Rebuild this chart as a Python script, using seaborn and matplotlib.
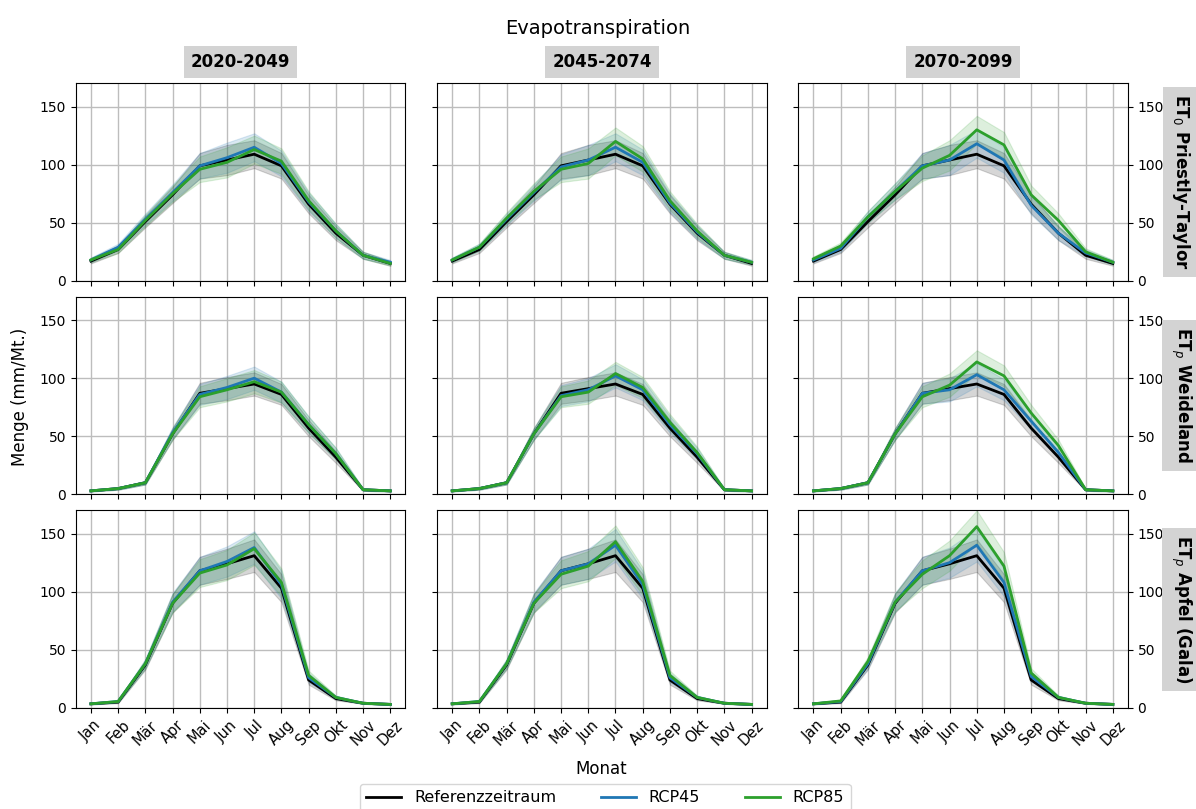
import numpy as np
import pandas as pd
import seaborn as sns
import matplotlib.pyplot as plt
from matplotlib.lines import Line2D

months = ["Jan", "Feb", "Mär", "Apr", "Mai", "Jun", "Jul", "Aug", "Sep", "Okt", "Nov", "Dez"]
periods = ["2020-2049", "2045-2074", "2070-2099"]
rows = [r"ET$_0$ Priestly-Taylor", r"ET$_p$ Weideland", r"ET$_p$ Apfel (Gala)"]
scenarios = ["Referenzzeitraum", "RCP45", "RCP85"]
colors = {"Referenzzeitraum": "black", "RCP45": "tab:blue", "RCP85": "tab:green"}

# reference period (same in every column)
ref_pt = [17, 27, 51, 74, 99, 104, 109, 99, 66, 41, 22, 15]
ref_wl = [3, 5, 10, 52, 87, 91, 95, 86, 57, 32, 4, 3]
ref_ap = [3.5, 5, 37, 90, 118, 124, 131, 103, 24, 8, 4, 3]

# RCP45 per period
rcp45_pt = [[18, 29, 53, 76, 99, 106, 115, 101, 68, 43, 22, 16],
            [18, 29, 53, 76, 98, 104, 115, 102, 67, 42, 22, 16],
            [18, 28, 55, 77, 99, 104, 118, 104, 65, 41, 24, 16]]
rcp45_wl = [[3, 5, 10, 53, 86, 92, 100, 88, 60, 35, 4, 3],
            [3, 5, 10, 52, 85, 90, 102, 90, 60, 35, 4, 3],
            [3, 5, 10, 52, 87, 90, 103, 90, 63, 36, 4, 3]]
rcp45_ap = [[3.5, 5.5, 38, 91, 118, 126, 138, 106, 26, 9, 4, 3],
            [3.5, 5.5, 38, 91, 118, 124, 140, 106, 26, 9, 4, 3],
            [3.5, 5.5, 38, 91, 118, 125, 140, 108, 27, 9, 4, 3]]

# RCP85 per period
rcp85_pt = [[18, 27, 52, 75, 96, 102, 113, 103, 69, 43, 22, 15],
            [18, 29, 54, 77, 96, 101, 120, 105, 69, 43, 22, 16],
            [19, 30, 55, 77, 97, 108, 130, 117, 74, 52, 25, 16]]
rcp85_wl = [[3, 5, 10, 52, 84, 90, 97, 88, 60, 35, 4, 3],
            [3, 5, 10, 52, 84, 88, 104, 92, 62, 36, 4, 3],
            [3, 5, 10, 52, 84, 94, 114, 102, 70, 42, 4, 3]]
rcp85_ap = [[3.5, 5.5, 38, 90, 116, 123, 137, 108, 28, 9, 4, 3],
            [3.5, 5.5, 38, 90, 115, 122, 143, 109, 28, 9, 4, 3],
            [3.5, 6, 40, 91, 115, 131, 156, 122, 30, 9, 4, 3]]

# band half-widths (spread between models) per row
spread_pt = [2, 3, 5, 7, 11, 13, 12, 11, 8, 6, 3, 2]
spread_wl = [0.5, 1, 1.5, 5, 9, 10, 10, 9, 7, 5, 1, 0.5]
spread_ap = [0.5, 1, 4, 8, 12, 13, 14, 12, 4, 1.5, 0.5, 0.5]

refs = [ref_pt, ref_wl, ref_ap]
r45 = [rcp45_pt, rcp45_wl, rcp45_ap]
r85 = [rcp85_pt, rcp85_wl, rcp85_ap]
spreads = [spread_pt, spread_wl, spread_ap]

recs = []
for i in range(3):
    for j in range(3):
        for name, vals in [("Referenzzeitraum", refs[i]), ("RCP45", r45[i][j]), ("RCP85", r85[i][j])]:
            for k, m in enumerate(months):
                recs.append({"row": i, "col": j, "scen": name, "Monat": m,
                             "val": vals[k], "lo": vals[k] - spreads[i][k], "hi": vals[k] + spreads[i][k]})
df = pd.DataFrame(recs)

fig, axes = plt.subplots(3, 3, figsize=(11.96, 8.09), dpi=100, sharex=True, sharey=True)
plt.subplots_adjust(left=0.0635, right=0.943, top=0.897, bottom=0.125, wspace=0.097, hspace=0.081)

for i in range(3):
    for j in range(3):
        ax = axes[i, j]
        d = df[(df.row == i) & (df.col == j)]
        for s in scenarios:
            ds = d[d.scen == s]
            ax.fill_between(np.arange(12), ds.lo, ds.hi, color=colors[s], alpha=0.16, lw=0.8)
        sns.lineplot(data=d, x="Monat", y="val", hue="scen", palette=colors, hue_order=scenarios,
                     ax=ax, legend=False, lw=2, sort=False)
        ax.set_ylim(0, 170)
        ax.set_yticks([0, 50, 100, 150])
        ax.set_xticks(range(12))
        ax.set_xticklabels(months, rotation=45)
        ax.grid(True, color="#bdbdbd", lw=1)
        ax.set_axisbelow(True)
        ax.set_xlabel("")
        ax.set_ylabel("")
        ax.tick_params(labelsize=10)
        ax.tick_params(axis="x", labelsize=10.5)
        if i == 0:
            ax.set_title(periods[j], fontsize=12, fontweight="bold", pad=12,
                         bbox=dict(facecolor="lightgrey", edgecolor="none", pad=5))
        if j == 2:
            ax.tick_params(right=True, labelright=True, left=True, labelleft=False)
            ax.text(1.162, 0.5, rows[i], transform=ax.transAxes, rotation=270, ha="center", va="center",
                    fontsize=12, fontweight="bold",
                    bbox=dict(facecolor="lightgrey", edgecolor="none", pad=5))

fig.suptitle("Evapotranspiration", fontsize=14, y=0.976)
fig.text(0.017, 0.51, "Menge (mm/Mt.)", rotation=90, ha="center", va="center", fontsize=12)
fig.text(0.503, 0.05, "Monat", ha="center", va="center", fontsize=12)

handles = [Line2D([], [], color=colors[s], lw=2) for s in scenarios]
fig.legend(handles, scenarios, loc="upper center", bbox_to_anchor=(0.506, 0.041), ncol=3,
           fontsize=11.5, columnspacing=2.8, handlelength=2.2)

fig.savefig("out.png", dpi=100)
